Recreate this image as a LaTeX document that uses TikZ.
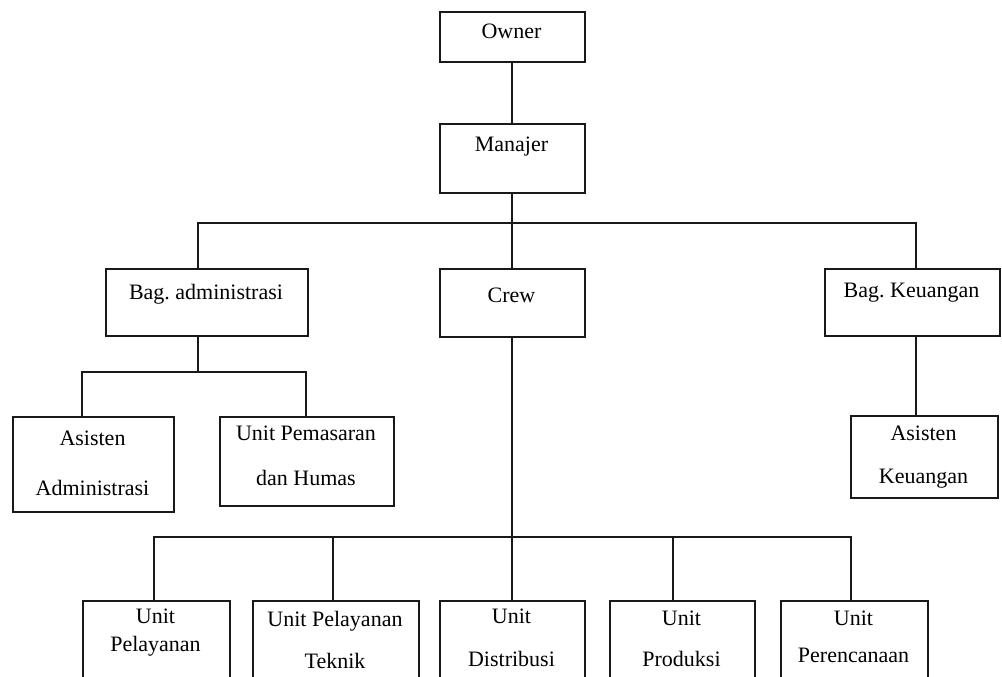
\documentclass[tikz,border=0pt]{standalone}
\usepackage{fontspec}
\setmainfont{Liberation Serif}
\frenchspacing
\begin{document}
\begin{tikzpicture}[x=1pt,y=-1pt,
  box/.style={draw=black!90, line width=1.8pt, inner sep=0pt, anchor=north west},
  lbl/.style={font=\fontsize{22}{#1}\selectfont, align=center, text=black, inner sep=0pt},
  lbl/.default=26,
  wire/.style={draw=black!90, line width=1.8pt}]
\useasboundingbox (0,0) rectangle (1002,677);
\clip (0,0) rectangle (1002,677);
\fill[white] (0,0) rectangle (1002,677);

% boxes
\node[box, minimum width=145pt, minimum height=50pt] (owner)    at (439,11) {};
\node[box, minimum width=145pt, minimum height=69pt] (manajer)  at (439,123) {};
\node[box, minimum width=202pt, minimum height=67pt] (bagadm)   at (105,268) {};
\node[box, minimum width=145pt, minimum height=68pt] (crew)     at (439,268) {};
\node[box, minimum width=175pt, minimum height=67pt] (bagkeu)   at (824,268) {};
\node[box, minimum width=161pt, minimum height=95pt] (asadm)    at (12,416) {};
\node[box, minimum width=174pt, minimum height=89pt] (pemasaran) at (219,416) {};
\node[box, minimum width=147pt, minimum height=82pt] (askeu)    at (850,415) {};
\node[box, minimum width=147pt, minimum height=100pt] (pelayanan)   at (82,600) {};
\node[box, minimum width=166pt, minimum height=100pt] (teknik)      at (252,600) {};
\node[box, minimum width=145pt, minimum height=100pt] (distribusi)  at (439,600) {};
\node[box, minimum width=145pt, minimum height=100pt] (produksi)    at (609,600) {};
\node[box, minimum width=147pt, minimum height=100pt] (perencanaan) at (780,600) {};

% labels
\node[lbl] (t-owner)   at (511.5,31)  {Owner};
\node[lbl] (t-manajer) at (511.5,147) {Manajer};
\node[lbl] (t-bagadm)  at (206,294)   {Bag. administrasi};
\node[lbl] (t-crew)    at (511.5,295) {Crew};
\node[lbl] (t-bagkeu)  at (911.5,293) {Bag. Keuangan};
\node[lbl=50] (t-asadm)     at (92.5,463)  {Asisten\\Administrasi};
\node[lbl=45] (t-pemasaran) at (306,456)   {Unit Pemasaran\\dan Humas};
\node[lbl=43] (t-askeu)     at (923.5,457) {Asisten\\Keuangan};
\node[lbl=28] (t-pelayanan)   at (155.5,633) {Unit\\Pelayanan};
\node[lbl=42] (t-teknik)      at (335,640)   {Unit Pelayanan\\Teknik};
\node[lbl=43] (t-distribusi)  at (511.5,638) {Unit\\Distribusi};
\node[lbl=41] (t-produksi)    at (681.5,639) {Unit\\Produksi};
\node[lbl=37] (t-perencanaan) at (853.5,637) {Unit\\Perencanaan};

% bus points
\coordinate (busL) at (198,223);
\coordinate (busM) at (512,223);
\coordinate (busR) at (916,223);
\coordinate (admL) at (82,372);
\coordinate (admR) at (306,372);
\coordinate (admM) at (198,372);
\coordinate (crewL) at (154,537);
\coordinate (crewM) at (512,537);
\coordinate (crewR) at (851,537);
\coordinate (x2) at (333,0);
\coordinate (x4) at (673,0);

% connectors
\draw[wire] (owner.south -| busM) -- (manajer.north -| busM);
\draw[wire] (manajer.south -| busM) -- (crew.north -| busM);
\draw[wire] (bagadm.north -| busL) -- (busL) -- (busR) -- (bagkeu.north -| busR);
\draw[wire] (bagadm.south -| admM) -- (admM);
\draw[wire] (asadm.north -| admL) -- (admL) -- (admR) -- (pemasaran.north -| admR);
\draw[wire] (bagkeu.south -| busR) -- (askeu.north -| busR);
\draw[wire] (crew.south -| crewM) -- (distribusi.north -| crewM);
\draw[wire] (pelayanan.north -| crewL) -- (crewL) -- (crewR) -- (perencanaan.north -| crewR);
\draw[wire] (teknik.north -| x2) -- (crewL -| x2);
\draw[wire] (produksi.north -| x4) -- (crewL -| x4);
\end{tikzpicture}
\end{document}
